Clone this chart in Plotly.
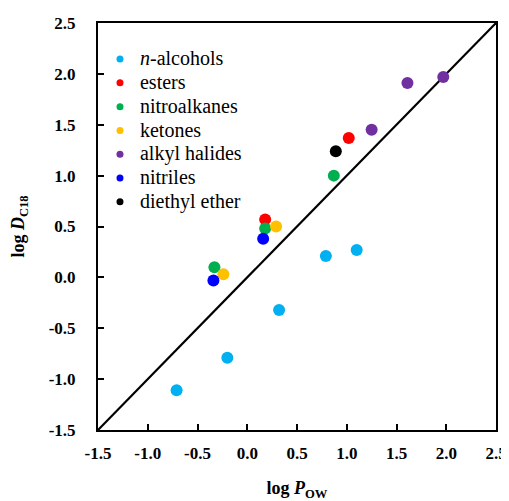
import plotly.graph_objects as go

# ---- data ----
alcohols_x = [-0.71, -0.20, 0.32, 0.79, 1.10]
alcohols_y = [-1.11, -0.79, -0.32, 0.21, 0.27]
esters_x = [0.18, 1.02]
esters_y = [0.57, 1.37]
nitro_x = [-0.33, 0.18, 0.87]
nitro_y = [0.10, 0.48, 1.00]
ketones_x = [-0.24, 0.29]
ketones_y = [0.03, 0.50]
halides_x = [1.25, 1.61, 1.97]
halides_y = [1.45, 1.91, 1.97]
nitriles_x = [-0.34, 0.16]
nitriles_y = [-0.03, 0.38]
ether_x = [0.89]
ether_y = [1.24]
identity_x = [-1.5, 2.5]
identity_y = [-1.5, 2.5]

tick_vals = [-1.5, -1.0, -0.5, 0.0, 0.5, 1.0, 1.5, 2.0, 2.5]
tick_text = ["-1.5", "-1.0", "-0.5", "0.0", "0.5", "1.0", "1.5", "2.0", "2.5"]

series = [
    ("<i>n</i>-alcohols", alcohols_x, alcohols_y, "#00B0F0"),
    ("esters", esters_x, esters_y, "#FF0000"),
    ("nitroalkanes", nitro_x, nitro_y, "#00B050"),
    ("ketones", ketones_x, ketones_y, "#FFC000"),
    ("alkyl halides", halides_x, halides_y, "#7030A0"),
    ("nitriles", nitriles_x, nitriles_y, "#0000FF"),
    ("diethyl ether", ether_x, ether_y, "#000000"),
]

SERIF = "Liberation Serif"

fig = go.Figure()
fig.add_trace(go.Scatter(x=identity_x, y=identity_y, mode="lines",
                         line=dict(color="black", width=2.2), showlegend=False,
                         hoverinfo="skip"))
for name, xs, ys, col in series:
    fig.add_trace(go.Scatter(x=xs, y=ys, mode="markers", name=name,
                             marker=dict(color=col, size=12), showlegend=False))
    fig.add_trace(go.Scatter(x=[None], y=[None], mode="markers",
                             name='<span style="font-size:20px">' + name + '</span>',
                             marker=dict(color=col, size=7)))

axis_common = dict(
    range=[-1.5, 2.5], tickvals=tick_vals, ticktext=tick_text,
    showgrid=False, zeroline=False, showline=True, linecolor="black",
    linewidth=2, mirror=True, ticks="inside", ticklen=6, tickwidth=1.5,
    tickcolor="black", automargin=False,
    tickfont=dict(family=SERIF, size=17, color="black", weight="bold"),
)

fig.update_layout(
    width=509, height=501,
    margin=dict(l=90, r=21, t=15, b=79),
    paper_bgcolor="white", plot_bgcolor="white",
    xaxis=dict(**axis_common, ticklabelstandoff=7,
               title=dict(text="<b>log <i>P</i><sub>OW</sub></b>", standoff=19,
                          font=dict(family=SERIF, size=18, color="black"))),
    yaxis=dict(**axis_common, ticklabelstandoff=17,
               title=dict(text="<b>log <i>D</i><sub>C18</sub></b>", standoff=27,
                          font=dict(family=SERIF, size=18, color="black"))),
    legend=dict(x=0.005, y=0.953, xanchor="left", yanchor="top",
                bgcolor="rgba(0,0,0,0)",
                font=dict(family=SERIF, size=16, color="black"),
                tracegroupgap=0),
)

fig.write_html("out.html")
